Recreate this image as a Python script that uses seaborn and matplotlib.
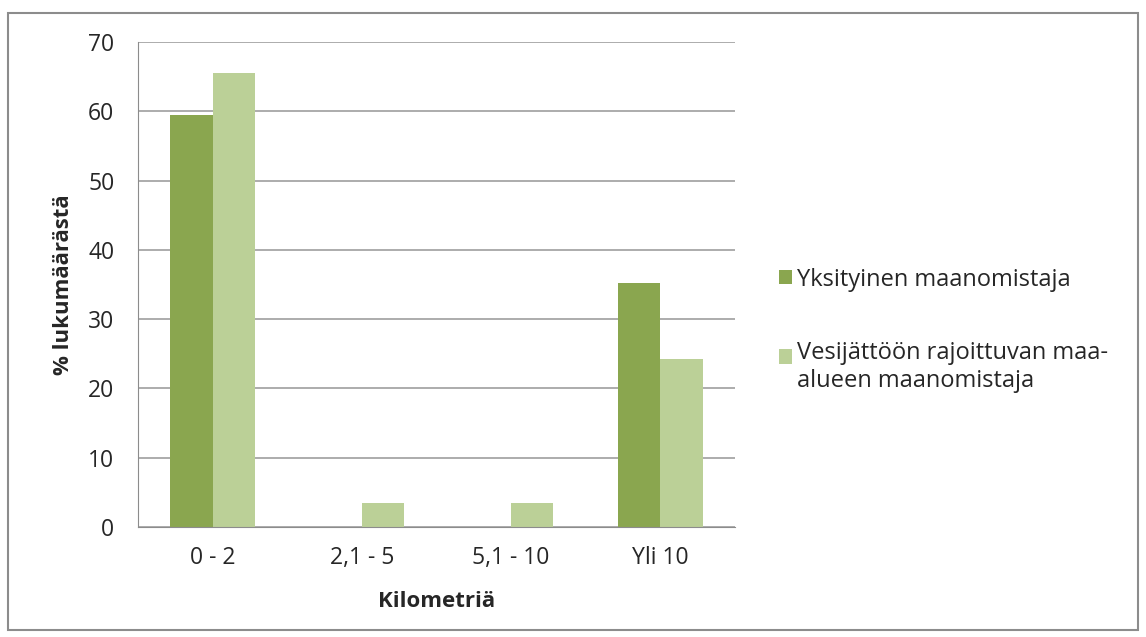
import numpy as np
import pandas as pd
import seaborn as sns
import matplotlib.pyplot as plt
from matplotlib.patches import Rectangle

categories = ['0 - 2', '2,1 - 5', '5,1 - 10', 'Yli 10']
series_names = ['Yksityinen maanomistaja',
                'Vesijättöön rajoittuvan maa-\nalueen maanomistaja']
yksityinen = [59.4, 0, 0, 35.2]
vesijatto = [65.6, 3.4, 3.4, 24.2]
colors = ['#8AA64F', '#BBD097']

df = pd.DataFrame({
    'Kilometriä': categories * 2,
    'arvo': yksityinen + vesijatto,
    'sarja': [series_names[0]] * 4 + [series_names[1]] * 4,
})

sns.set_style('white')
plt.rcParams['font.family'] = ['Open Sans', 'DejaVu Sans']

fig = plt.figure(figsize=(11.46, 6.37), dpi=100)
ax = fig.add_axes([0.1204, 0.1727, 0.5206, 0.7613])

sns.barplot(data=df, x='Kilometriä', y='arvo', hue='sarja', palette=colors,
            width=0.57, gap=0, ax=ax, saturation=1, linewidth=0, legend=True)

ax.set_ylim(0, 70)
ax.set_xlim(-0.5, 3.5)
ax.set_yticks(range(0, 71, 10))
ax.yaxis.grid(True, color='#A6A6A6', linewidth=1.3)
ax.set_axisbelow(True)
for s in ['top', 'right']:
    ax.spines[s].set_visible(False)
ax.spines['left'].set_color('#8C8C8C')
ax.spines['bottom'].set_color('#8C8C8C')
ax.tick_params(axis='y', length=6, color='#8C8C8C', labelsize=16.5, labelcolor='#262626', pad=11)
ax.tick_params(axis='x', which='major', length=0, labelsize=16.5, labelcolor='#262626', pad=14)
ax.set_xticks(np.arange(-0.5, 4, 1), minor=True)
ax.tick_params(axis='x', which='minor', length=6, color='#8C8C8C')

ax.set_xlabel('Kilometriä', fontsize=16, fontweight='bold', labelpad=15)
ax.set_ylabel('% lukumäärästä', fontsize=16, fontweight='bold', labelpad=10)

leg = ax.legend(loc='center left', bbox_to_anchor=(1.075, 0.406), frameon=False,
                fontsize=17, handlelength=0.55, handleheight=0.55,
                handletextpad=0.2, labelspacing=2.1, borderpad=0, borderaxespad=0)
for t in leg.get_texts():
    t.set_color('#262626')
# square of the two-line entry sits next to its first line
h = leg.legend_handles[1]
h.set_y(h.get_y() + 8)

fig.patches.append(Rectangle((0.007, 0.011), 0.986, 0.968, transform=fig.transFigure,
                             fill=False, edgecolor='#8C8C8C', linewidth=1.5))

fig.savefig('out.png', dpi=100)
